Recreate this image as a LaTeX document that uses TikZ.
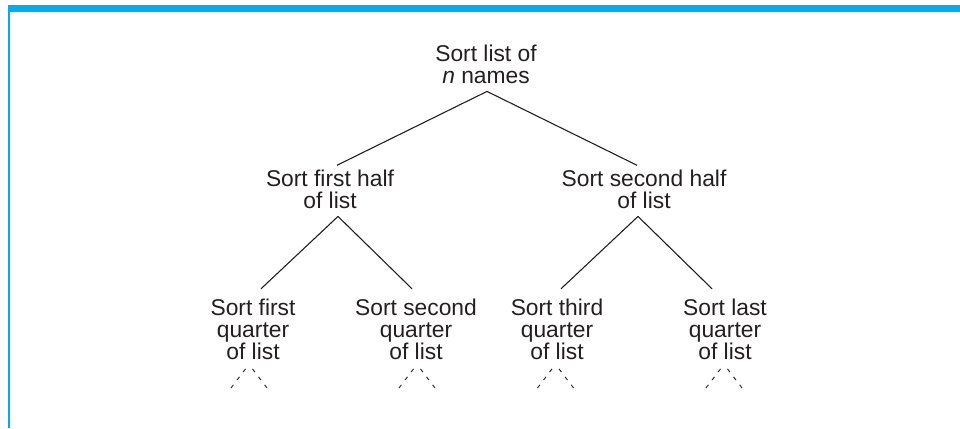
\documentclass[tikz,border=0pt]{standalone}
\usepackage{fontspec}
\setmainfont{Liberation Sans}
\usepackage{xcolor}
\usetikzlibrary{positioning}
\definecolor{barblue}{RGB}{0, 174, 239}
\definecolor{inkgray}{RGB}{35, 31, 32}

\begin{document}
\begin{tikzpicture}[x=1pt, y=-1pt,
    task/.style={align=center, inner sep=0pt, anchor=base, text=inkgray,
                 font=\fontsize{22.8}{22}\selectfont},
    branch/.style={draw=inkgray, line width=1.1pt},
    stub/.style={draw=inkgray, line width=0.9pt, dash pattern=on 4pt off 6pt}]
    \useasboundingbox (0,0) rectangle (960,428);
    % frame
    \fill[barblue] (8,5) rectangle (960,12);
    \fill[barblue] (8,5) rectangle (9.6,428);
    % tree of tasks
    \node[task] (root)  at (486,83)  {Sort list of\\\textit{n} names};
    \node[task] (half1) at (330,208) {Sort first half\\of list};
    \node[task] (half2) at (644,208) {Sort second half\\of list};
    \node[task] (q1) at (253,359.5) {Sort first\\quarter\\of list};
    \node[task] (q2) at (416,359.5) {Sort second\\quarter\\of list};
    \node[task] (q3) at (557,359.5) {Sort third\\quarter\\of list};
    \node[task] (q4) at (725,359.5) {Sort last\\quarter\\of list};
    % branches
    \draw[branch] ([xshift=1pt,yshift=-8pt]root.south) -- ([xshift=7pt,yshift=4pt]half1.north);
    \draw[branch] ([xshift=1pt,yshift=-8pt]root.south) -- ([xshift=-7pt,yshift=4pt]half2.north);
    \draw[branch] ([xshift=8pt,yshift=-8pt]half1.south) -- ([xshift=8pt,yshift=10pt]q1.north);
    \draw[branch] ([xshift=8pt,yshift=-8pt]half1.south) -- ([xshift=-4pt,yshift=10pt]q2.north);
    \draw[branch] ([xshift=-6pt,yshift=-8pt]half2.south) -- ([xshift=4pt,yshift=10pt]q3.north);
    \draw[branch] ([xshift=-6pt,yshift=-8pt]half2.south) -- ([xshift=-13pt,yshift=10pt]q4.north);
    % unfinished sub-sorts
    \foreach \q/\dx in {q1/-4, q2/1, q3/-1.5, q4/-1} {
      \draw[stub] ([xshift=\dx pt-3.5pt,yshift=-9pt]\q.south) -- ++(-16,21);
      \draw[stub] ([xshift=\dx pt+3.5pt,yshift=-9pt]\q.south) -- ++(16,21);
    }
\end{tikzpicture}
\end{document}
